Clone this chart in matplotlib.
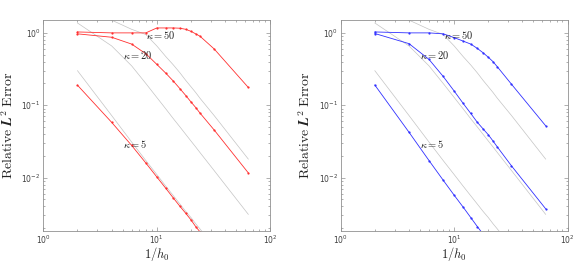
import matplotlib
matplotlib.use('Agg')
import matplotlib.pyplot as plt
from matplotlib.ticker import LogLocator, NullFormatter

# DATA
h_inv = [2, 4, 6, 8, 10, 12, 14, 16, 18, 20, 22, 24, 32, 64]

# reference curves (same in both panels)
ref_k50 = [2.2, 1.50, 1.12, 0.95, 0.66, 0.47, 0.36, 0.28, 0.22, 0.18, 0.15, 0.125, 0.072, 0.018]
ref_k20 = [1.37, 0.66, 0.35, 0.20, 0.128, 0.089, 0.065, 0.050, 0.0395, 0.032, 0.0265, 0.0222, 0.0125, 0.0031]
ref_k5 = [0.30, 0.072, 0.031, 0.0172, 0.011, 0.0076, 0.0056, 0.0043, 0.0034, 0.0028, 0.0023, 0.00195, 0.0011, 0.00028]

# left panel (red)
red_k50 = [1.03, 1.0, 1.0, 1.0, 1.17, 1.17, 1.17, 1.16, 1.12, 1.05, 0.97, 0.90, 0.60, 0.176]
red_k20 = [0.97, 0.87, 0.70, 0.515, 0.367, 0.277, 0.215, 0.169, 0.136, 0.111, 0.093, 0.078, 0.0455, 0.0116]
red_k5 = [0.189, 0.058, 0.0278, 0.0159, 0.0102, 0.0071, 0.0052, 0.0040, 0.0032, 0.0026, 0.0021, 0.00178, 0.00098, 0.00024]

# right panel (blue)
blue_k50 = [1.03, 1.0, 1.0, 0.97, 0.86, 0.77, 0.70, 0.61, 0.53, 0.46, 0.40, 0.34, 0.195, 0.052]
blue_k20 = [0.98, 0.71, 0.43, 0.25, 0.157, 0.106, 0.077, 0.058, 0.047, 0.039, 0.032, 0.0265, 0.0145, 0.0037]
blue_k5 = [0.19, 0.0423, 0.0172, 0.0092, 0.0057, 0.0039, 0.0028, 0.0021, 0.00165, 0.00133, 0.0011, 0.00092, 0.0005, 0.00012]

labels = [r'$\kappa = 50$', r'$\kappa = 20$', r'$\kappa = 5$']
label_pos = [(8.1, 0.92), (5.0, 0.50), (5.0, 0.029)]

fig = plt.figure(figsize=(5.88, 2.63), dpi=100)
ax1 = fig.add_axes([0.0737, 0.12, 0.386, 0.805])
ax2 = fig.add_axes([0.5794, 0.12, 0.386, 0.805])

panels = [(ax1, '#ff3030', [red_k50, red_k20, red_k5]),
          (ax2, '#3030ff', [blue_k50, blue_k20, blue_k5])]

for ax, col, series in panels:
    for ref in [ref_k50, ref_k20, ref_k5]:
        ax.plot(h_inv, ref, color='#c4c4c4', lw=0.5)
    for s in series:
        ax.plot(h_inv, s, color=col, lw=0.6, marker='o', markersize=1.6,
                markeredgewidth=0)
    for lab, (tx, ty) in zip(labels, label_pos):
        ax.text(tx, ty, lab, fontsize=7.5, va='center', ha='left',
                math_fontfamily='cm', color='#222222')
    ax.set_xscale('log')
    ax.set_yscale('log')
    ax.set_xlim(1, 100)
    ax.set_ylim(1.8e-3, 1.52)
    ax.yaxis.set_major_locator(LogLocator(base=10, numticks=10))
    ax.yaxis.set_minor_locator(LogLocator(base=10, subs='auto', numticks=10))
    ax.yaxis.set_minor_formatter(NullFormatter())
    ax.xaxis.set_minor_formatter(NullFormatter())
    ax.tick_params(which='both', direction='in', top=True, right=True,
                   colors='#909090', labelcolor='#404040', labelsize=5.5,
                   width=0.5, pad=2)
    ax.tick_params(axis='x', pad=1.2)
    ax.tick_params(which='major', length=3)
    ax.tick_params(which='minor', length=1.6)
    for sp in ax.spines.values():
        sp.set_color('#909090')
        sp.set_linewidth(0.6)
    ax.set_xlabel(r'$1/h_0$', fontsize=9, math_fontfamily='cm', color='#222222')
    ax.xaxis.set_label_coords(0.5, -0.066)
    ax.set_ylabel(r'$\mathrm{Relative}\ \mathbfit{L}^2\ \mathrm{Error}$', fontsize=10,
                  math_fontfamily='cm', color='#222222')
    ax.yaxis.set_label_coords(-0.12, 0.5)

plt.savefig('out.png', dpi=100)
